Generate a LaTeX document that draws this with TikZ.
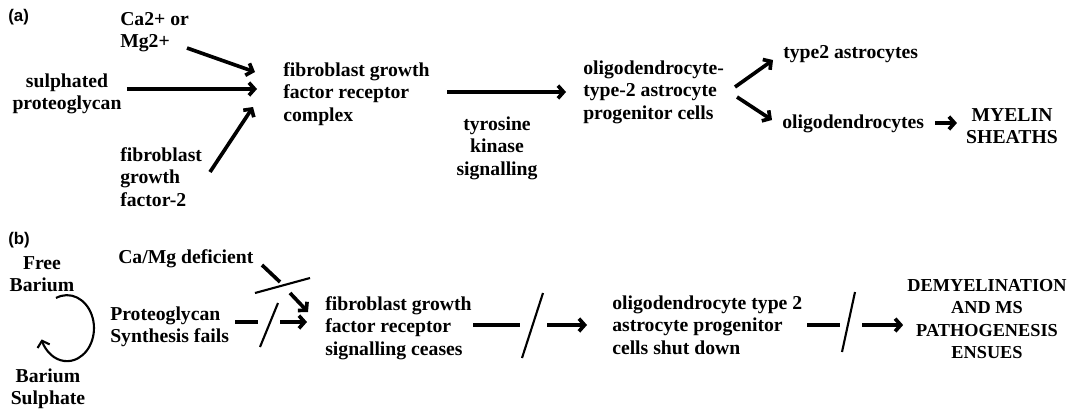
\documentclass[tikz,border=0pt]{standalone}
\usepackage{fontspec}
\setmainfont{Liberation Serif}
\newfontfamily\panelfont{Liberation Sans}
\usepackage{tikz}
\usetikzlibrary{arrows.meta,calc,positioning}

\begin{document}
\begin{tikzpicture}[x=0.025cm,y=-0.025cm,>={Straight Barb[length=4pt,width=9pt]},
  txt/.style={inner sep=0pt,font=\fontsize{14}{16}\selectfont\bfseries},
  panel/.style={inner sep=0pt,anchor=west,font=\panelfont\fontsize{12}{14}\selectfont\bfseries},
  arr/.style={->,line width=2.6pt},
  stub/.style={line width=2.6pt},
  cut/.style={line width=1.5pt}]
  \useasboundingbox (0,0) rectangle (1070,408);
  % (a)
  \node[panel] (pa) at (8,17) {(a)};
  \node[txt,anchor=west,align=left] (ion) at (120,32) {Ca2+ or\\Mg2+};
  \node[txt,align=center] (spg) at (67,94) {sulphated\\proteoglycan};
  \node[txt,anchor=west,align=left] (fgf) at (120,177) {fibroblast\\growth\\factor-2};
  \node[txt,anchor=west,align=left] (fgfr) at (283,94) {fibroblast growth\\factor receptor\\complex};
  \node[txt,align=center] (tks) at (497,148) {tyrosine\\kinase\\signalling};
  \node[txt,anchor=west,align=left] (opc) at (583,92) {oligodendrocyte-\\type-2 astrocyte\\progenitor cells};
  \node[txt,anchor=west] (ast) at (783,54) {type2 astrocytes};
  \node[txt,anchor=west] (olig) at (782,124) {oligodendrocytes};
  \node[txt,align=center] (mye) at (1012,126) {MYELIN\\SHEATHS};
  \draw[arr] (187,48) -- ([shift={(-28,-22)}]fgfr.west);
  \draw[arr] ([shift={(5,-5)}]spg.east) -- ([shift={(-26,-5)}]fgfr.west);
  \draw[arr] (210,172) -- ([shift={(-30,13)}]fgfr.west);
  \draw[arr] (447,92) -- ([shift={(-17,0)}]opc.west);
  \draw[arr] (735,87) -- ([shift={(-10,6)}]ast.west);
  \draw[arr] (737,97) -- ([shift={(-10,-4)}]olig.west);
  \draw[arr] (935,123) -- ([shift={(-9,-3)}]mye.west);
  % (b)
  \node[panel] (pb) at (8,240) {(b)};
  \node[txt,align=center] (free) at (42,274) {Free\\Barium};
  \node[txt,align=center] (bas) at (48,389) {Barium\\Sulphate};
  \draw[->,line width=1.5pt] (56,298) arc (-114:160:27 and 33);
  \node[txt,anchor=west] (cam) at (118,259) {Ca/Mg deficient};
  \node[txt,anchor=west,align=left] (pgs) at (110,327) {Proteoglycan\\Synthesis fails};
  \node[txt,anchor=west,align=left] (fgfs) at (325,328) {fibroblast growth\\factor receptor\\signalling ceases};
  \node[txt,anchor=west,align=left] (opcs) at (612,325) {oligodendrocyte type 2\\astrocyte progenitor\\cells shut down};
  \node[txt,align=center,font=\fontsize{13}{16}\selectfont\bfseries] (dem) at (987,319) {DEMYELINATION\\AND MS\\PATHOGENESIS\\ENSUES};
  \draw[stub] (262,265) -- (280,282);
  \draw[arr] (290,293) -- ([shift={(-17,-16)}]fgfs.west);
  \draw[cut] (255,293) -- (310,278);
  \draw[stub] (235,322) -- (258,322);
  \draw[arr] (280,322) -- ([shift={(-18,-6)}]fgfs.west);
  \draw[cut] (278,303) -- (260,347);
  \draw[stub] (473,325) -- (520,325);
  \draw[cut] (543,293) -- (522,358);
  \draw[arr] (547,325) -- ([shift={(-25,0)}]opcs.west);
  \draw[stub] (807,325) -- (840,325);
  \draw[cut] (855,292) -- (842,352);
  \draw[arr] (862,325) -- ([shift={(-4,6)}]dem.west);
\end{tikzpicture}
\end{document}
